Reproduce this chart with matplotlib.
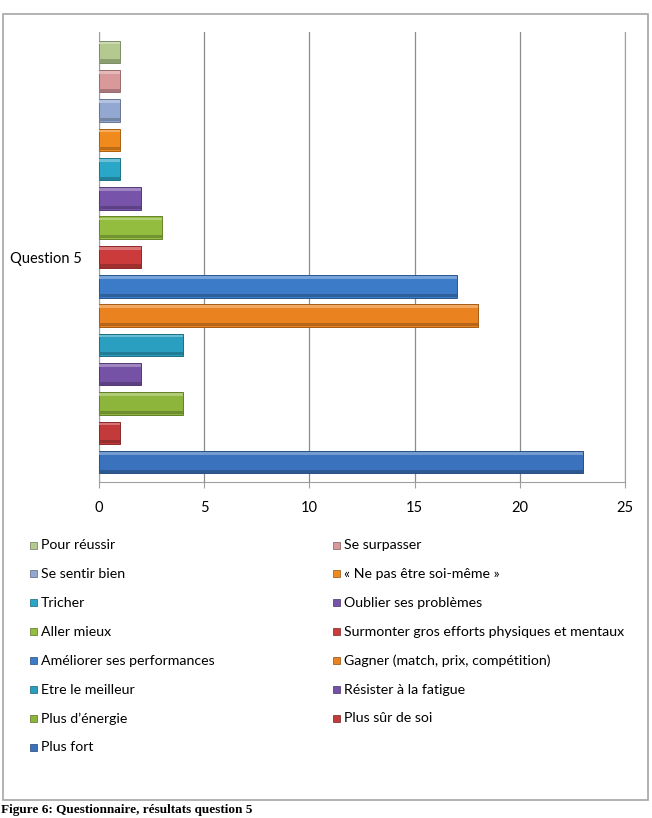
import numpy as np
import matplotlib
matplotlib.use('Agg')
import matplotlib.pyplot as plt
from matplotlib.patches import Rectangle
from matplotlib.colors import to_rgb

# answers, from the bottom bar to the top bar
labels = ['Plus fort', 'Plus sûr de soi', 'Plus d\u2019énergie', 'Résister à la fatigue',
          'Etre le meilleur', 'Gagner (match, prix, compétition)', 'Améliorer ses performances',
          'Surmonter gros efforts physiques et mentaux', 'Aller mieux', 'Oublier ses problèmes',
          'Tricher', '« Ne pas être soi-même »', 'Se sentir bien', 'Se surpasser', 'Pour réussir']
counts = [23, 1, 4, 2, 4, 18, 17, 2, 3, 2, 1, 1, 1, 1, 1]
colors = ['#3a72bd', '#c33a3a', '#8db53c', '#7652a6', '#2a9fc0', '#ea821f', '#3b7bc8',
          '#cc3b3b', '#93bd3f', '#7753aa', '#2aa6c6', '#f08a1d', '#93a8d0', '#d9999b', '#b3c98f']
category = 'Question 5'
xticks = [0, 5, 10, 15, 20, 25]

plt.rcParams['font.family'] = ['Lato', 'DejaVu Sans']

W, H = 652, 818
fig = plt.figure(figsize=(W / 100, H / 100), dpi=100)

# outer frame of the chart
fig.add_artist(Rectangle((3 / W, 1 - 800 / H), 645 / W, 786 / H, transform=fig.transFigure,
                         fill=False, edgecolor='#a6a6a6', linewidth=1.2))

ax = fig.add_axes([99 / W, 1 - 482 / H, 526 / W, 450 / H])

def darker(c, f):
    r, g, b = to_rgb(c)
    return (r * f, g * f, b * f)

def lighter(c, f):
    r, g, b = to_rgb(c)
    return (r + (1 - r) * f, g + (1 - g) * f, b + (1 - b) * f)

ypos = np.arange(len(counts))
bh = 0.77
ax.barh(ypos, counts, height=bh, color=colors,
        edgecolor=[darker(c, 0.7) for c in colors], linewidth=0.7, zorder=3)
# light top edge and shaded bottom edge for the bevel look
ax.barh(ypos + bh * 0.39, counts, height=bh * 0.12, color=[lighter(c, 0.3) for c in colors],
        linewidth=0, zorder=4)
ax.barh(ypos - bh * 0.4, counts, height=bh * 0.14, color=[darker(c, 0.78) for c in colors],
        linewidth=0, zorder=4)

ax.set_xlim(0, 25)
ax.set_ylim(-0.68, len(counts) - 1 + 0.68)
ax.set_xticks(xticks)
ax.set_xticklabels([str(t) for t in xticks], fontsize=10.5)
ax.set_yticks([(len(counts) - 1) / 2])
ax.set_yticklabels([category], fontsize=10.5)
ax.tick_params(axis='y', length=0, pad=12)
ax.tick_params(axis='x', length=4, color='#a0a0a0', pad=10)
ax.grid(axis='x', color='#8c8c8c', linewidth=0.9, zorder=0)
for s in ['left', 'bottom', 'right']:
    ax.spines[s].set_color('#a0a0a0')
ax.spines['top'].set_visible(False)

# legend: top bar first, filled row by row in two columns
order = list(range(len(labels)))[::-1]
for k, i in enumerate(order):
    row, col = divmod(k, 2)
    x = 30 if col == 0 else 333
    y = 545 + row * 28.9
    fig.add_artist(Rectangle((x / W, 1 - (y + 3.5) / H), 7 / W, 7 / H, transform=fig.transFigure,
                             facecolor=colors[i], edgecolor=darker(colors[i], 0.6), linewidth=0.5))
    fig.text((x + 11) / W, 1 - y / H, labels[i], fontsize=10.2, va='center', ha='left')

fig.text(0.002, 1 - 816.5 / H, 'Figure 6: Questionnaire, résultats question 5', fontsize=9.5,
         fontweight='bold', family=['Liberation Serif'], va='bottom', ha='left')

fig.savefig('out.png', dpi=100, facecolor='white')
